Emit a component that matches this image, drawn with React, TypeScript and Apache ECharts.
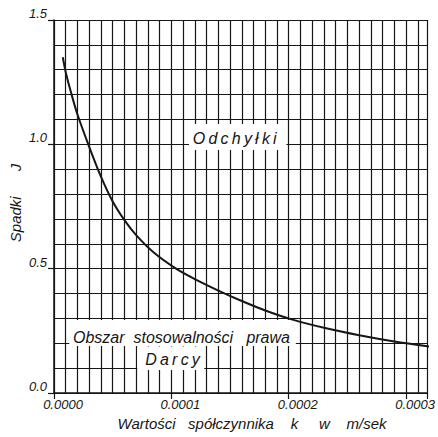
import React, { useEffect, useRef } from 'react';
import * as echarts from 'echarts';

// Curve: hydraulic gradient J against coefficient k (m/sek)
const kValues = [0.0000075, 0.00001, 0.000015, 0.00002, 0.00003, 0.00004, 0.00005, 0.00006, 0.00007, 0.000085, 0.000104, 0.00012, 0.00014, 0.00016, 0.00018, 0.000204, 0.000231, 0.00026, 0.00029, 0.00032];
const jValues = [1.35, 1.29, 1.20, 1.12, 0.99, 0.87, 0.77, 0.695, 0.635, 0.565, 0.50, 0.458, 0.412, 0.37, 0.332, 0.294, 0.261, 0.232, 0.207, 0.187];

const xTickLabels = ['0.0000', '0.0001', '0.0002', '0.0003'];
const yTickLabels = ['0.0', '0.5', '1.0', '1.5'];

const xAxisTitle = 'Wartości   spółczynnika    k     w    m/sek';
const yAxisTitle = 'Spadki      J';

// annotation labels with their boxes in data units: [kFrom, kTo, jFrom, jTo, kText, jText]
const annotationLabels = ['O\u2009d\u2009c\u2009h\u2009y\u2009ł\u2009k\u2009i', 'Obszar  stosowalności   prawa', 'D\u2009a\u2009r\u2009c\u2009y'];
const annotationBoxes = [
  [0.000115, 0.000198, 0.977, 1.082, 0.000154, 1.025],
  [0.000013, 0.000206, 0.189, 0.294, 0.0001086, 0.225],
  [0.000071, 0.000128, 0.092, 0.187, 0.000101, 0.133],
];

const ink = '#161616';
const fontFamily = '"Liberation Sans", "DejaVu Sans", sans-serif';

const isMultiple = (v: number, step: number) => Math.abs(v / step - Math.round(v / step)) < 1e-6;

export default function App() {
  const ref = useRef<HTMLDivElement>(null);
  useEffect(() => {
    if (!ref.current) return;
    const chart = echarts.init(ref.current, undefined, { renderer: 'svg' });
    const gridLine = { color: ink, width: 1.2 };
    const xMax = 0.000318;
    chart.setOption({
      animation: false,
      backgroundColor: '#ffffff',
      grid: { left: 54, top: 20, right: 0, bottom: 44, containLabel: false },
      xAxis: [
        {
          type: 'value', min: 0, max: xMax, interval: 0.00001,
          axisLine: { show: true, onZero: false, lineStyle: { color: ink, width: 1.5 } },
          axisTick: { show: false },
          axisLabel: {
            formatter: (v: number) => (isMultiple(v, 0.0001) ? xTickLabels[Math.round(v / 0.0001)] ?? '' : ''),
            fontSize: 13, fontStyle: 'italic', color: ink, margin: 5, padding: [0, 0, 0, 18], fontFamily,
            showMaxLabel: false,
          },
          splitLine: { show: true, lineStyle: gridLine },
        },
        {
          type: 'value', min: 0, max: xMax, interval: 0.0001, position: 'bottom',
          axisLine: { show: false },
          axisTick: { show: true, length: 6, lineStyle: { color: ink, width: 1.2 } },
          axisLabel: { show: false },
          splitLine: { show: false },
        },
      ],
      yAxis: [
        {
          type: 'value', min: 0, max: 1.5, interval: 0.1,
          axisLine: { show: true, onZero: false, lineStyle: { color: ink, width: 1.5 } },
          axisTick: { show: false },
          axisLabel: {
            formatter: (v: number) => (isMultiple(v, 0.5) ? yTickLabels[Math.round(v / 0.5)] ?? '' : ''),
            fontSize: 13, fontStyle: 'italic', color: ink, margin: 7, verticalAlign: 'bottom', fontFamily,
          },
          splitLine: { show: true, lineStyle: gridLine },
        },
        {
          type: 'value', min: 0, max: 1.5, interval: 0.5, position: 'left',
          axisLine: { show: false },
          axisTick: { show: true, length: 6, lineStyle: { color: ink, width: 1.2 } },
          axisLabel: { show: false },
          splitLine: { show: false },
        },
      ],
      series: [{
        type: 'line', z: 10, showSymbol: false, smooth: 0.3,
        xAxisIndex: 0, yAxisIndex: 0,
        lineStyle: { color: ink, width: 2 },
        data: kValues.map((k, i) => [k, jValues[i]]),
      }],
    });

    const toPx = (k: number, j: number) => chart.convertToPixel({ xAxisIndex: 0, yAxisIndex: 0 }, [k, j]) as number[];
    const elements: any[] = [];
    annotationBoxes.forEach((b, i) => {
      const p1 = toPx(b[0], b[3]);
      const p2 = toPx(b[1], b[2]);
      const pt = toPx(b[4], b[5]);
      elements.push({
        type: 'rect', z: 5, silent: true,
        shape: { x: p1[0], y: p1[1], width: p2[0] - p1[0], height: p2[1] - p1[1] },
        style: { fill: '#ffffff' },
      });
      elements.push({
        type: 'text', z: 6, x: pt[0], y: pt[1], silent: true,
        style: { text: annotationLabels[i], fill: ink, font: `italic 16px ${fontFamily}`, textAlign: 'center', textVerticalAlign: 'middle' },
      });
    });
    elements.push({
      type: 'text', z: 6, x: 252, y: 423, silent: true,
      style: { text: xAxisTitle, fill: ink, font: `italic 15px ${fontFamily}`, textAlign: 'center', textVerticalAlign: 'middle' },
    });
    elements.push({
      type: 'text', z: 6, x: 15, y: 203, rotation: Math.PI / 2, silent: true,
      style: { text: yAxisTitle, fill: ink, font: `italic 15px ${fontFamily}`, textAlign: 'center', textVerticalAlign: 'middle' },
    });
    chart.setOption({ graphic: { elements } });
    return () => chart.dispose();
  }, []);
  return <div ref={ref} style={{ position: 'fixed', left: 0, top: 0, width: 438, height: 437 }} />;
}
